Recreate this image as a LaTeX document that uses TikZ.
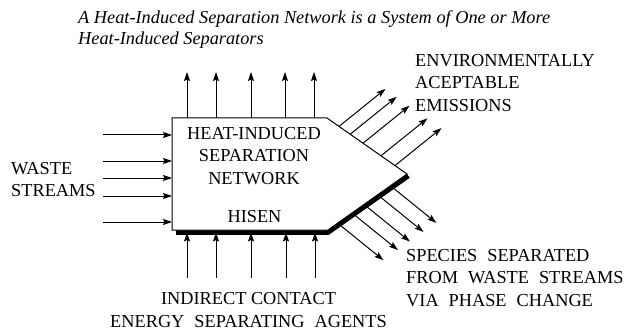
\documentclass[tikz,border=0pt]{standalone}
\usepackage{fontspec}
\setmainfont{Liberation Serif}
\usetikzlibrary{arrows.meta,calc}
\newcommand\wsp{\hspace{10pt}}
\begin{document}
\begin{tikzpicture}[x=1pt,y=-1pt,
  flow/.style={line width=1pt,-{Stealth[length=9pt,width=6pt,inset=1.5pt]}},
  txt/.style={inner sep=0pt,font=\fontsize{18.3}{22.5}\selectfont},
  outline/.style={line width=1pt,line join=miter},
  band/.style={line width=4.5pt,line join=miter}]
\useasboundingbox (0,0) rectangle (628,331);

% corners of the network block
\coordinate (tl)  at (172,118);
\coordinate (tr)  at (327,118);
\coordinate (tip) at (407,174);
\coordinate (br)  at (328,230);
\coordinate (bl)  at (172,230);
\draw[outline] (tl) -- (tr) -- (tip) -- (br) -- (bl) -- cycle;

% heavy band along the separated-species side
\coordinate (hb1) at (176,232.5);
\coordinate (hb2) at (328.2,232.5);
\coordinate (hb3) at (408.4,176);

% streams leaving through the top
\foreach \x [count=\i] in {187,216,251,285,314} {
  \coordinate (up\i) at (\x,72);
  \draw[flow] (up\i |- tl) -- (up\i);
}

% energy separating agents entering from below
\foreach \x [count=\i] in {187,216,251,286,315} {
  \coordinate (dn\i) at (\x,278);
  \draw[flow] (dn\i) -- (dn\i |- hb1);
}

% waste streams entering from the left
\foreach \y [count=\i] in {135,161,178,196,222} {
  \coordinate (in\i) at (103,\y);
  \draw[flow] (in\i) -- (in\i -| tl);
}

% environmentally acceptable emissions
\foreach \t [count=\i] in {0.15,0.29,0.45,0.675,0.85} {
  \coordinate (ea\i) at ($(tr)!\t!(tip)$);
  \draw[flow] (ea\i) -- ++(46.5,-37.5);
}

% separated species
\foreach \t [count=\i] in {0.14,0.32,0.47,0.64,0.80} {
  \coordinate (sp\i) at ($(hb2)!\t!(hb3)$);
  \draw[flow] (sp\i) -- ++(44,35.6);
}

\draw[band] (hb1) -- (hb2) -- (hb3);

% texts
\node[txt,anchor=north west,align=left,font=\itshape\fontsize{18.3}{21}\selectfont] (title) at (78,10.5)
  {A Heat-Induced Separation Network is a System of One or More\\Heat-Induced Separators};
\node[txt,anchor=north west,align=left] (waste) at (11,162) {WASTE\\STREAMS};
\node[txt,anchor=north,align=center] (net) at (254,127) {HEAT-INDUCED\\SEPARATION\\NETWORK};
\node[txt] (hisen) at (254.5,217) {HISEN};
\node[txt,anchor=north west,align=left] (emis) at (415,54) {ENVIRONMENTALLY\\ACEPTABLE\\EMISSIONS};
\node[txt,anchor=north west,align=left] (species) at (406,249)
  {SPECIES\wsp SEPARATED\\FROM\wsp WASTE\wsp STREAMS\\VIA\wsp PHASE\wsp CHANGE};
\node[txt,anchor=north,align=center,font=\fontsize{18.3}{23.5}\selectfont] (esa) at (248.5,292)
  {INDIRECT CONTACT\\ENERGY\wsp SEPARATING\wsp AGENTS};
\end{tikzpicture}
\end{document}
